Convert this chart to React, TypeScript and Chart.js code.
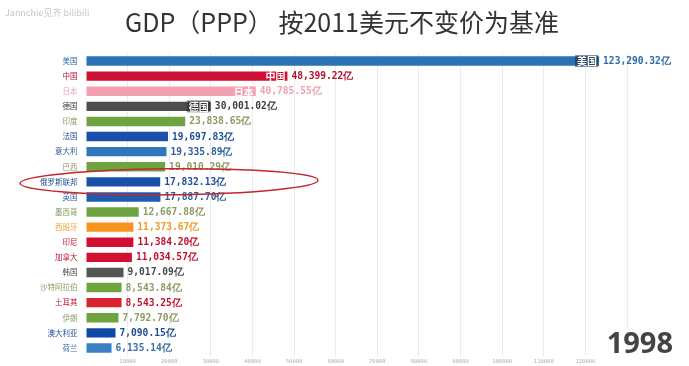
import React, { useEffect, useRef } from 'react';
import { Chart, registerables } from 'chart.js';

Chart.register(...registerables);

const TITLE = 'GDP（PPP） 按2011美元不变价为基准';
const WATERMARK = 'Jannchie见齐 bilibili';
const YEAR = '1998';

const countries = [
  '美国', '中国', '日本', '德国', '印度', '法国', '意大利', '巴西', '俄罗斯联邦', '英国',
  '墨西哥', '西班牙', '印尼', '加拿大', '韩国', '沙特阿拉伯', '土耳其', '伊朗', '澳大利亚', '荷兰',
];

const gdp = [
  123290.32, 48399.22, 40785.55, 30001.02, 23838.65, 19697.83, 19335.89, 19010.29, 17832.13, 17887.7,
  12667.88, 11373.67, 11384.2, 11034.57, 9017.09, 8543.84, 8543.25, 7792.7, 7090.15, 6135.14,
];

const barColors = [
  '#2a72b5', '#cf0f34', '#f4a0b2', '#4d4d4d', '#6ea43f', '#1a4fab', '#2f76bb', '#6ea43f', '#1a4fab', '#1f5bb0',
  '#6ea43f', '#f7941d', '#d10f33', '#d10f33', '#555555', '#6ea43f', '#d8242f', '#6ea43f', '#0d4aa8', '#3a80c3',
];

const textColors = [
  '#2a6aa8', '#b3102e', '#f2a0b2', '#3d3d3d', '#8c9a63', '#1e4c98', '#2d5f9a', '#8c9a63', '#1e4c98', '#2d5f9a',
  '#8c9a63', '#f39a2a', '#c0102e', '#c0102e', '#4a4a4a', '#8c9a63', '#c0102e', '#8c9a63', '#1e4c98', '#3b6fa5',
];

// labels drawn inside the bar end (only for the leading bars)
const innerLabelCount = 4;
const innerLabelBg = [true, false, false, true];

const X_MAX = 130000;
const X_STEP = 10000;
const X_LABEL_MAX = 120000;

function fmt(v: number): string {
  return v.toLocaleString('en-US', { minimumFractionDigits: 2, maximumFractionDigits: 2 }) + '亿';
}

const overlayPlugin = {
  id: 'overlay',
  afterDatasetsDraw(chart: any) {
    const ctx = chart.ctx;
    const meta = chart.getDatasetMeta(0);
    ctx.save();
    meta.data.forEach((bar: any, i: number) => {
      const x = bar.x;
      const y = bar.y;
      ctx.font = 'bold 9.6px "DejaVu Sans Mono", monospace';
      ctx.fillStyle = textColors[i];
      ctx.textAlign = 'left';
      ctx.textBaseline = 'middle';
      ctx.fillText(fmt(gdp[i]), x + 4, y + 0.5);
      if (i < innerLabelCount) {
        ctx.font = 'bold 10px "Noto Sans CJK SC", sans-serif';
        const w = ctx.measureText(countries[i]).width;
        if (innerLabelBg[i]) {
          ctx.fillStyle = 'rgba(40,40,40,0.55)';
          ctx.fillRect(x - w - 4, y - 6, w + 3, 12);
        }
        ctx.fillStyle = '#ffffff';
        ctx.textAlign = 'right';
        ctx.fillText(countries[i], x - 2, y + 0.5);
      }
    });
    ctx.restore();
  },
  afterDraw(chart: any) {
    const ctx = chart.ctx;
    ctx.save();
    ctx.font = '25px "Noto Sans CJK SC", sans-serif';
    ctx.fillStyle = '#333333';
    ctx.textAlign = 'center';
    ctx.textBaseline = 'middle';
    ctx.fillText(TITLE, 342, 22);
    ctx.font = '9px "Noto Sans CJK SC", sans-serif';
    ctx.fillStyle = 'rgba(150,150,150,0.55)';
    ctx.textAlign = 'left';
    ctx.fillText(WATERMARK, 5, 13);
    ctx.font = 'bold 29px "Open Sans", sans-serif';
    ctx.fillStyle = '#444444';
    ctx.textAlign = 'right';
    ctx.textBaseline = 'alphabetic';
    ctx.fillText(YEAR, 673, 353);
    const yScale = chart.scales.y;
    const cy = yScale.getPixelForValue(8);
    ctx.strokeStyle = '#c3262c';
    ctx.lineWidth = 1.5;
    ctx.beginPath();
    ctx.ellipse(169, cy, 149, 13, -0.01, 0, Math.PI * 2);
    ctx.stroke();
    ctx.restore();
  },
};

export default function App() {
  const ref = useRef<HTMLCanvasElement | null>(null);

  useEffect(() => {
    if (!ref.current) return;
    const chart = new Chart(ref.current, {
      type: 'bar',
      data: {
        labels: countries,
        datasets: [
          {
            data: gdp,
            backgroundColor: barColors,
            borderWidth: 0,
            categoryPercentage: 1,
            barPercentage: 0.62,
          },
        ],
      },
      options: {
        indexAxis: 'y',
        animation: false,
        responsive: false,
        devicePixelRatio: 1,
        layout: { padding: { top: 53.5, right: 62, left: 0, bottom: 0 } },
        plugins: {
          legend: { display: false },
          tooltip: { enabled: false },
          title: { display: false },
        },
        scales: {
          x: {
            min: 0,
            max: X_MAX,
            border: { display: false },
            grid: {
              color: (c: any) => (c.tick && c.tick.value === 0 ? 'rgba(0,0,0,0)' : '#ececec'),
              drawTicks: false,
              lineWidth: 1,
            },
            ticks: {
              stepSize: X_STEP,
              autoSkip: false,
              maxRotation: 0,
              padding: 3,
              color: '#b0b0b0',
              font: { size: 5.5, family: '"DejaVu Sans Mono", monospace' },
              callback: (v: any) => (v === 0 || v > X_LABEL_MAX ? '' : String(v)),
            },
            afterFit: (s: any) => {
              s.height = 10.5;
              s.paddingLeft = 0;
              s.paddingRight = 0;
            },
          },
          y: {
            border: { display: false },
            grid: { display: false, drawTicks: false },
            ticks: {
              padding: 8.5,
              autoSkip: false,
              color: (c: any) => textColors[c.index],
              font: { size: 7.5, family: '"Noto Sans CJK SC", sans-serif' },
            },
            afterFit: (s: any) => {
              s.width = 86;
              s.paddingTop = 0;
              s.paddingBottom = 0;
            },
          },
        },
      },
      plugins: [overlayPlugin],
    } as any);
    return () => chart.destroy();
  }, []);

  return (
    <div style={{ position: 'absolute', left: 0, top: 0, width: 689, height: 366, background: '#fff' }}>
      <canvas ref={ref} width={689} height={366} style={{ display: 'block', width: 689, height: 366 }} />
    </div>
  );
}
